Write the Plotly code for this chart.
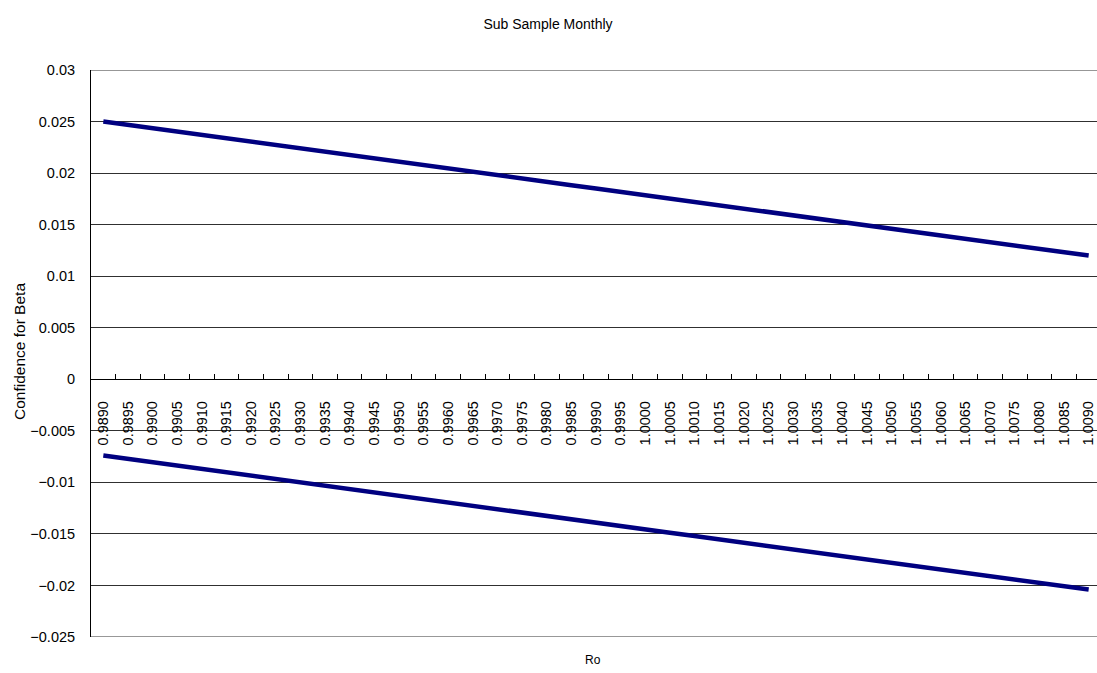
import plotly.graph_objects as go

ro_labels = ["0.9890", "0.9895", "0.9900", "0.9905", "0.9910", "0.9915", "0.9920", "0.9925",
             "0.9930", "0.9935", "0.9940", "0.9945", "0.9950", "0.9955", "0.9960", "0.9965",
             "0.9970", "0.9975", "0.9980", "0.9985", "0.9990", "0.9995", "1.0000", "1.0005",
             "1.0010", "1.0015", "1.0020", "1.0025", "1.0030", "1.0035", "1.0040", "1.0045",
             "1.0050", "1.0055", "1.0060", "1.0065", "1.0070", "1.0075", "1.0080", "1.0085",
             "1.0090"]

upper = [0.0250, 0.02468, 0.02435, 0.02403, 0.0237, 0.02338, 0.02305, 0.02273, 0.0224,
         0.02208, 0.02175, 0.02143, 0.0211, 0.02078, 0.02045, 0.02013, 0.0198, 0.01948,
         0.01915, 0.01883, 0.0185, 0.01818, 0.01785, 0.01753, 0.0172, 0.01688, 0.01655,
         0.01623, 0.0159, 0.01558, 0.01525, 0.01493, 0.0146, 0.01428, 0.01395, 0.01363,
         0.0133, 0.01298, 0.01265, 0.01233, 0.0120]

lower = [-0.0074, -0.00773, -0.00805, -0.00838, -0.0087, -0.00903, -0.00935, -0.00968,
         -0.0100, -0.01033, -0.01065, -0.01098, -0.0113, -0.01163, -0.01195, -0.01228,
         -0.0126, -0.01293, -0.01325, -0.01358, -0.0139, -0.01423, -0.01455, -0.01488,
         -0.0152, -0.01553, -0.01585, -0.01618, -0.0165, -0.01683, -0.01715, -0.01748,
         -0.0178, -0.01813, -0.01845, -0.01878, -0.0191, -0.01943, -0.01975, -0.02008,
         -0.0204]

y_tickvals = [0.03, 0.025, 0.02, 0.015, 0.01, 0.005, 0, -0.005, -0.01, -0.015, -0.02, -0.025]
y_ticktext = ["0.03", "0.025", "0.02", "0.015", "0.01", "0.005", "0",
              "\u22120.005", "\u22120.01", "\u22120.015", "\u22120.02", "\u22120.025"]

FONT = "Liberation Sans, Arial, sans-serif"
W, H = 1105, 673   # slightly wider than the 1097px window: plot area runs past the right edge
# target plot area in page pixels: x 91..1101, y 70..637
L, R, T, B = 91, W - 1101, 70, H - 637
ymin, ymax = -0.025, 0.03
GRID = "#303030"

fig = go.Figure()
for series in (upper, lower):
    fig.add_trace(go.Scatter(x=ro_labels, y=series, mode="lines",
                             line=dict(color="#000080", width=4.5), showlegend=False,
                             hoverinfo="skip", cliponaxis=False))

pw, ph = W - L - R, H - T - B

fig.update_layout(
    width=W, height=H,
    margin=dict(l=L, r=R, t=T, b=B, pad=0, autoexpand=False),
    paper_bgcolor="white", plot_bgcolor="white",
    font=dict(family=FONT, size=14, color="black"),
    title=dict(text="Sub Sample Monthly", x=548 / W, xref="container", xanchor="center",
               y=1 - 24 / H, yref="container", yanchor="middle",
               font=dict(family=FONT, size=14, color="black")),
    xaxis=dict(type="category", range=[-0.5, len(ro_labels) - 0.5],
               anchor="free", position=(0 - ymin) / (ymax - ymin), automargin=False,
               showline=True, linecolor="black", linewidth=1,
               ticks="inside", tickson="boundaries", ticklen=5, tickcolor="black",
               tickangle=-90, showgrid=False, zeroline=False,
               ticklabelstandoff=15,
               tickfont=dict(family=FONT, size=14.5, color="black")),
    yaxis=dict(range=[ymin, ymax], tickmode="array", tickvals=y_tickvals, automargin=False,
               ticktext=y_ticktext, showline=True, linecolor="black", linewidth=1,
               showgrid=True, gridcolor=GRID, gridwidth=1, zeroline=False,
               ticks="", ticklabelstandoff=12,
               tickfont=dict(family=FONT, size=14.5, color="black")),
    shapes=[
        dict(type="line", xref="paper", yref="y", x0=0, x1=1, y0=ymax, y1=ymax,
             line=dict(color=GRID, width=1), layer="below"),
        dict(type="line", xref="paper", yref="y", x0=0, x1=1, y0=ymin, y1=ymin,
             line=dict(color=GRID, width=1), layer="below"),
    ],
    annotations=[
        dict(text="Confidence for Beta", xref="paper", yref="paper",
             x=-(91 - 19) / pw, y=(637 - 352) / ph, xanchor="center", yanchor="middle",
             textangle=-90, showarrow=False, font=dict(family=FONT, size=15.5, color="black")),
        dict(text="Ro", xref="paper", yref="paper",
             x=(593 - 91) / pw, y=-(660 - 637) / ph, xanchor="center", yanchor="middle",
             showarrow=False, font=dict(family=FONT, size=12, color="black")),
    ],
)

fig.write_html("out.html", config={"displayModeBar": False},
               post_script="document.body.style.margin='0';document.body.style.overflow='hidden';")
